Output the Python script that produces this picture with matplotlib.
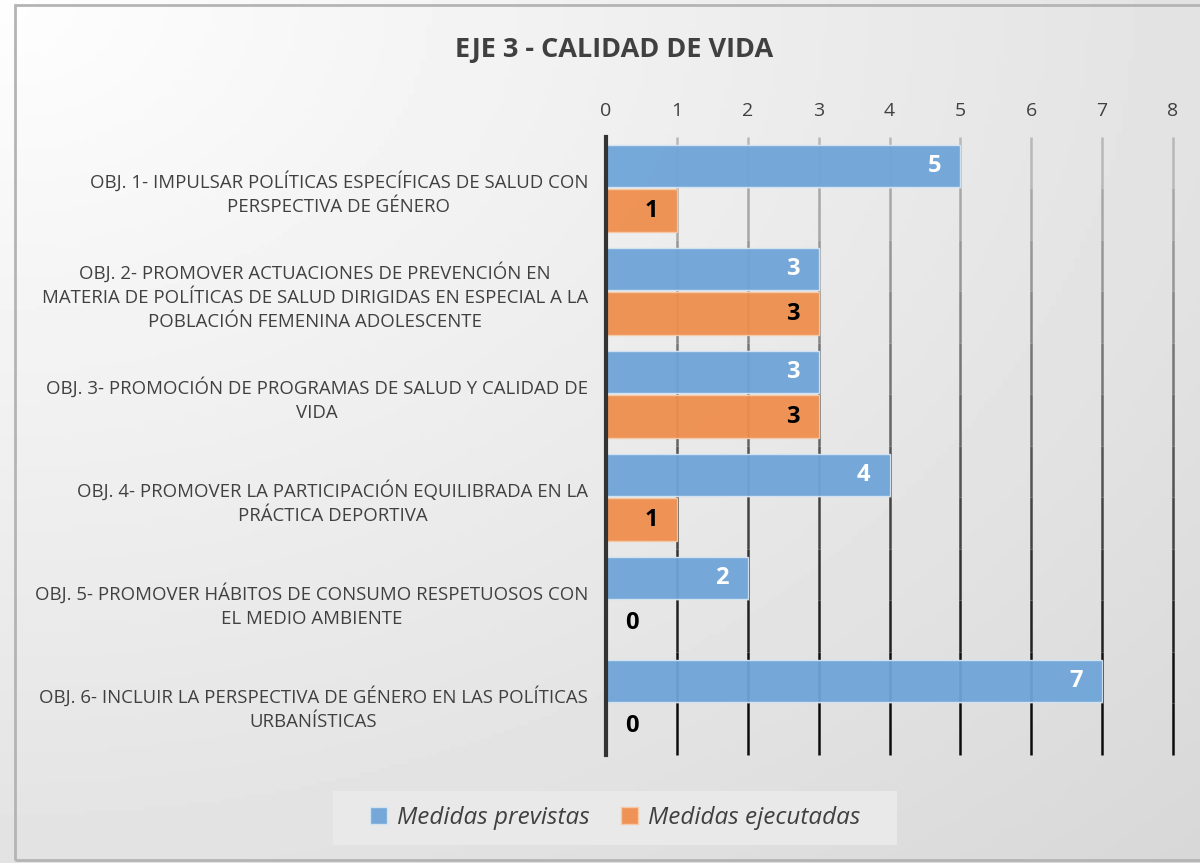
import numpy as np
import matplotlib.pyplot as plt
from matplotlib.patches import Rectangle

categorias = [
    "OBJ. 1- IMPULSAR POLÍTICAS ESPECÍFICAS DE SALUD CON\nPERSPECTIVA DE GÉNERO",
    "OBJ. 2- PROMOVER ACTUACIONES DE PREVENCIÓN EN\nMATERIA DE POLÍTICAS DE SALUD DIRIGIDAS EN ESPECIAL A LA\nPOBLACIÓN FEMENINA ADOLESCENTE",
    "OBJ. 3- PROMOCIÓN DE PROGRAMAS DE SALUD Y CALIDAD DE\nVIDA",
    "OBJ. 4- PROMOVER LA PARTICIPACIÓN EQUILIBRADA EN LA\nPRÁCTICA DEPORTIVA",
    "OBJ. 5- PROMOVER HÁBITOS DE CONSUMO RESPETUOSOS CON\nEL MEDIO AMBIENTE",
    "OBJ. 6- INCLUIR LA PERSPECTIVA DE GÉNERO EN LAS POLÍTICAS\nURBANÍSTICAS",
]
previstas = [5, 3, 3, 4, 2, 7]
ejecutadas = [1, 3, 3, 1, 0, 0]
xticks = [0, 1, 2, 3, 4, 5, 6, 7, 8]

azul = "#6FA5D8"
naranja = "#EF8E4E"
txt = "#404040"

plt.rcParams['font.family'] = ['Open Sans', 'DejaVu Sans']

fig = plt.figure(figsize=(12, 8.63), dpi=100)

# fondo con degradado
bg = fig.add_axes([0, 0, 1, 1], zorder=-10)
yy, xx = np.mgrid[0:1:200j, 0:1:200j]
r = np.sqrt(xx ** 2 + yy ** 2) / np.sqrt(2)
bg.imshow(0.995 - 0.15 * r, cmap='gray', vmin=0, vmax=1, extent=[0, 1, 0, 1],
          origin='upper', aspect='auto')
bg.add_patch(Rectangle((0.0125, 0.004), 1.0, 0.99, fill=False, edgecolor='#b4b4b4', lw=2))
# caja de la leyenda
bg.add_patch(Rectangle((0.2775, 0.0209), 0.47, 0.0626, facecolor='#e9e9e9', edgecolor='none'))
bg.set_xlim(0, 1)
bg.set_ylim(0, 1)
bg.axis('off')

ax = fig.add_axes([0.505, 0.1252, 0.4725, 0.7161])
ax.patch.set_alpha(0)

n = len(categorias)
y = np.arange(n)
h = 0.41
ax.barh(y - h / 2 - 0.01, previstas, height=h, color=azul, edgecolor='#d6e4f2',
        linewidth=1, alpha=0.95, zorder=3, label='Medidas previstas')
ax.barh(y + h / 2 + 0.01, ejecutadas, height=h, color=naranja, edgecolor='#f6c9a8',
        linewidth=1, alpha=0.95, zorder=3, label='Medidas ejecutadas')

for i in range(n):
    ax.annotate(str(previstas[i]), (previstas[i], y[i] - h / 2 - 0.01),
                xytext=(-19, 0), textcoords='offset pixels', ha='right', va='center',
                color='white', fontsize=17, fontweight='bold', zorder=5)
    v = ejecutadas[i]
    if v > 0:
        ax.annotate(str(v), (v, y[i] + h / 2 + 0.01), xytext=(-19, 0),
                    textcoords='offset pixels', ha='right', va='center',
                    color='black', fontsize=17, fontweight='bold', zorder=5)
    else:
        ax.annotate(str(v), (v, y[i] + h / 2 + 0.01), xytext=(19, 0),
                    textcoords='offset pixels', ha='left', va='center',
                    color='black', fontsize=17, fontweight='bold', zorder=5)

ax.set_xlim(0, 8)
ax.set_ylim(n - 0.5, -0.5)

# lineas de division con degradado gris -> negro
segs = np.linspace(-0.5, n - 0.5, 13)
for xt in xticks[1:]:
    for k in range(len(segs) - 1):
        c = 0.72 - 0.72 * k / (len(segs) - 2)
        ax.plot([xt, xt], [segs[k], segs[k + 1]], color=str(max(c, 0.05)),
                lw=1.8, zorder=1, solid_capstyle='butt', clip_on=False)

ax.xaxis.tick_top()
ax.set_xticks(xticks)
ax.tick_params(axis='x', length=0, pad=12.5, labelsize=14, labelcolor=txt)
ax.set_yticks(y)
ax.set_yticklabels(categorias, fontsize=13.4, color=txt, multialignment='center',
                   linespacing=1.45)
ax.tick_params(axis='y', length=0, pad=13)
for s in ['top', 'right', 'bottom']:
    ax.spines[s].set_visible(False)
ax.spines['left'].set_color('#333333')
ax.spines['left'].set_linewidth(3)
ax.spines['left'].set_zorder(6)

fig.text(0.512, 0.942, "EJE 3 - CALIDAD DE VIDA", ha='center', va='center',
         fontsize=19.5, fontweight='bold', color=txt)

leg = fig.legend(loc='center', bbox_to_anchor=(0.5125, 0.052), ncol=2,
                 frameon=False, prop={'style': 'italic', 'size': 17.5},
                 handlelength=0.7, handleheight=0.7, handletextpad=0.4,
                 columnspacing=1.3, borderpad=0.5, borderaxespad=0)
for t in leg.get_texts():
    t.set_color(txt)

fig.savefig('out.png', dpi=100)
